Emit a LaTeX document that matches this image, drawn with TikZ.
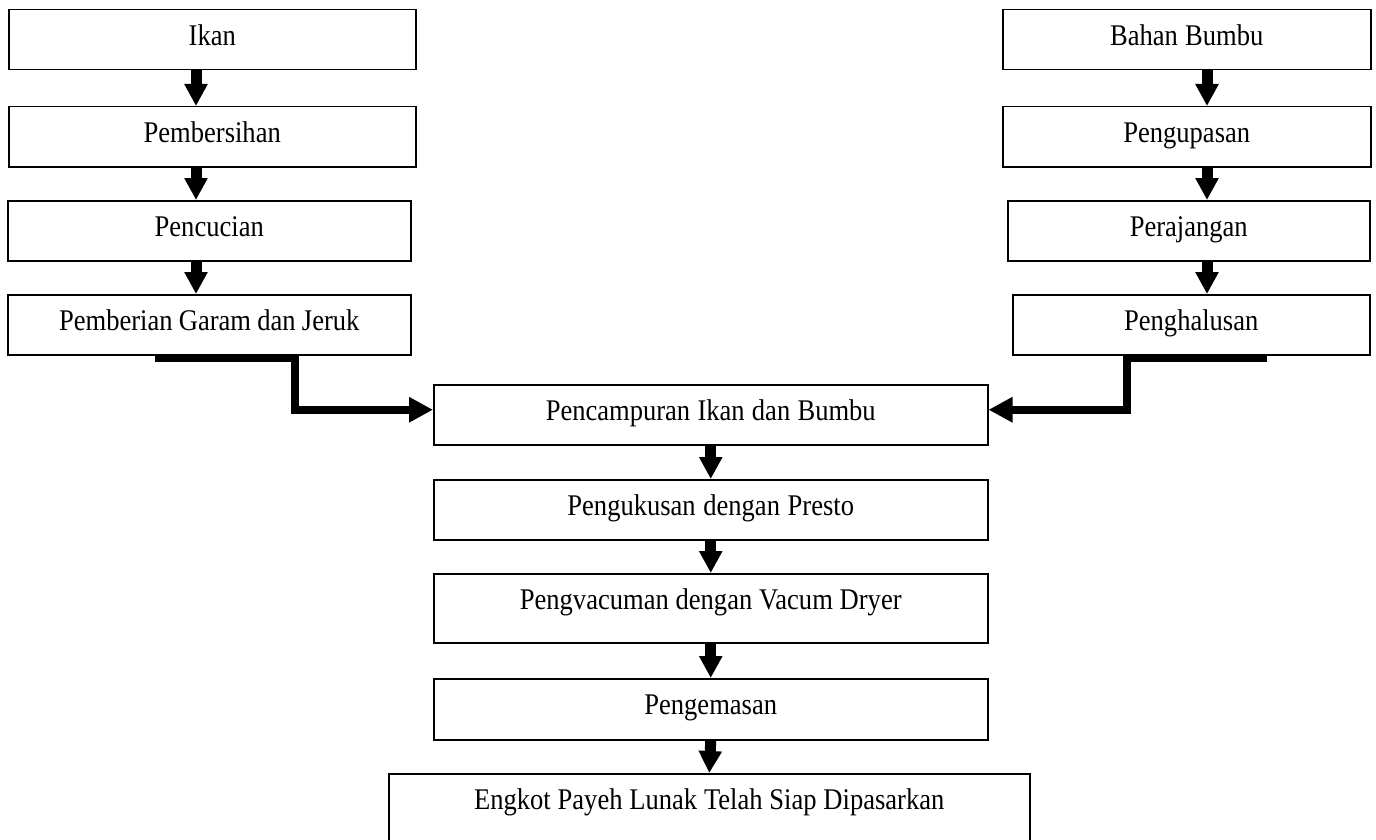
\documentclass[tikz,border=0pt]{standalone}
\usepackage{fontspec}
\setmainfont{Liberation Serif}
\newfontfamily\boxfont[FakeStretch=0.885]{Liberation Serif}
\usetikzlibrary{arrows.meta}
\begin{document}
\begin{tikzpicture}[x=1pt,y=-1pt,
  procbox/.style={draw=black,line width=1.5pt,inner sep=0pt,anchor=north west,
    align=center,font=\boxfont\fontsize{30}{34}\selectfont,text height=36pt,
    execute at begin node=\setlength{\spaceskip}{5.4pt plus 1pt minus 1pt}},
  varrow/.style={line width=11pt,-{Triangle[width=22pt,length=22pt]}},
  elbow/.style={line width=8pt,line join=miter,-{Triangle[width=24pt,length=24pt]}}]
\useasboundingbox (0,0) rectangle (1376,840);
% left column
\node[procbox,text width=407pt,text depth=24pt] (ikan) at (8,9) {Ikan};
\node[procbox,text width=407pt,text depth=24pt] (pemb) at (8,106) {Pembersihan};
\node[procbox,text width=403pt,text depth=24pt] (penc) at (7,200) {Pencucian};
\node[procbox,text width=403pt,text depth=24pt] (pgar) at (7,294) {Pemberian Garam dan Jeruk};
% right column
\node[procbox,text width=368pt,text depth=24pt] (bahan) at (1002,9) {Bahan Bumbu};
\node[procbox,text width=368pt,text depth=24pt] (kupas) at (1002,106) {Pengupasan};
\node[procbox,text width=362pt,text depth=24pt] (rajang) at (1007,200) {Perajangan};
\node[procbox,text width=357pt,text depth=24pt] (halus) at (1012,294) {Penghalusan};
% middle column
\node[procbox,text width=554pt,text depth=24pt] (campur) at (433,384) {Pencampuran Ikan dan Bumbu};
\node[procbox,text width=554pt,text depth=24pt] (kukus) at (433,479) {Pengukusan dengan Presto};
\node[procbox,text width=554pt,text depth=33pt] (vacum) at (433,573) {Pengvacuman dengan Vacum Dryer};
\node[procbox,text width=554pt,text depth=25pt] (kemas) at (433,678) {Pengemasan};
\node[procbox,text width=641pt,text depth=37pt] (engkot) at (388,773) {Engkot Payeh Lunak Telah Siap Dipasarkan};
% column coordinates
\coordinate (lx) at (196,0);
\coordinate (rx) at (1207,0);
% vertical arrows left
\draw[varrow] (ikan.south -| lx) -- (pemb.north -| lx);
\draw[varrow] (pemb.south -| lx) -- (penc.north -| lx);
\draw[varrow] (penc.south -| lx) -- (pgar.north -| lx);
% vertical arrows right
\draw[varrow] (bahan.south -| rx) -- (kupas.north -| rx);
\draw[varrow] (kupas.south -| rx) -- (rajang.north -| rx);
\draw[varrow] (rajang.south -| rx) -- (halus.north -| rx);
% vertical arrows middle
\draw[varrow] (campur.south) -- (kukus.north);
\draw[varrow] (kukus.south) -- (vacum.north);
\draw[varrow] (vacum.south) -- (kemas.north);
\draw[varrow] (kemas.south) -- (engkot.north);
% elbow connectors
\coordinate (ls) at (155,358);
\coordinate (lk) at (294.5,358);
\coordinate (rs) at (1267,358);
\coordinate (rk) at (1127,358);
\draw[elbow] (ls) -- (lk) |- ([yshift=5pt]campur.west);
\draw[elbow] (rs) -- (rk) |- ([yshift=5pt]campur.east);
\end{tikzpicture}
\end{document}
